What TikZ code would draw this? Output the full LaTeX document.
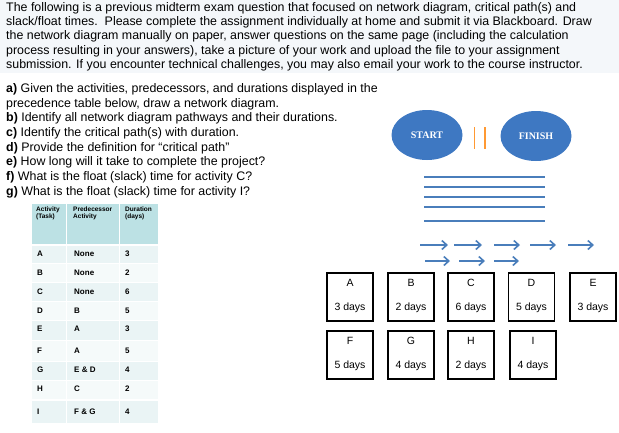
\documentclass[tikz,border=0pt]{standalone}
\usepackage{fontspec}
\setmainfont{Liberation Sans}
\newfontfamily\serifb{Liberation Serif}
\usetikzlibrary{arrows.meta,shapes.geometric}
\definecolor{bblue}{HTML}{3E78C2}
\definecolor{ablue}{HTML}{4A7EBB}
\definecolor{hdr}{HTML}{BCE1E4}
\definecolor{rowa}{HTML}{EAF4F5}
\definecolor{rowb}{HTML}{F5FAFA}
\definecolor{topbg}{HTML}{F4F7FA}
\begin{document}
\begin{tikzpicture}[x=1pt,y=-1pt,
  para/.style={anchor=west,inner sep=0pt,font=\fontsize{12.4}{13}\selectfont},
  qline/.style={anchor=west,inner sep=0pt,font=\fontsize{12.4}{13}\selectfont},
  cell/.style={anchor=west,inner sep=0pt,font=\fontsize{6.5}{7}\selectfont\bfseries},
  taskbox/.style={draw=black,line width=1.2pt,minimum width=46pt,minimum height=48pt,inner sep=0pt},
  tt/.style={font=\fontsize{10.5}{11}\selectfont,inner sep=0pt},
  oval/.style={ellipse,fill=bblue,minimum width=71pt,minimum height=50pt,text=white,font=\fontsize{10}{11}\selectfont\bfseries\serifb},
  blarrow/.style={draw=ablue,line width=1.6pt,-{Straight Barb[length=5pt,width=9pt]}},
  blline/.style={draw=ablue,line width=1.6pt}]
\useasboundingbox (0,0) rectangle (619,432);
\fill[topbg] (0,0) rectangle (619,73);
\node[para] (p1) at (6,8) {The following is a previous midterm exam question that focused on network diagram, critical path(s) and};
\node[para] (p2) at (6,22) {slack/float times.\ \ Please complete the assignment individually at home and submit it via Blackboard. Draw};
\node[para] (p3) at (6,36) {the network diagram manually on paper, answer questions on the same page (including the calculation};
\node[para] (p4) at (6,51) {process resulting in your answers), take a picture of your work and upload the file to your assignment};
\node[para] (p5) at (6,65) {submission. If you encounter technical challenges, you may also email your work to the course instructor.};
\node[qline] (q1) at (6,89) {\textbf{a)} Given the activities, predecessors, and durations displayed in the};
\node[qline] (q2) at (6,104) {precedence table below, draw a network diagram.};
\node[qline] (q3) at (6,118) {\textbf{b)} Identify all network diagram pathways and their durations.};
\node[qline] (q4) at (6,133) {\textbf{c)} Identify the critical path(s) with duration.};
\node[qline] (q5) at (6,148) {\textbf{d)} Provide the definition for “critical path”};
\node[qline] (q6) at (6,162) {\textbf{e)} How long will it take to complete the project?};
\node[qline] (q7) at (6,177) {\textbf{f)} What is the float (slack) time for activity C?};
\node[qline] (q8) at (6,192) {\textbf{g)} What is the float (slack) time for activity I?};
% table
\fill[hdr] (32,204) rectangle (66,244);
\fill[hdr] (67,204) rectangle (119,244);
\fill[hdr] (120,204) rectangle (158,244);
\foreach \t/\b [count=\i] in {246/263,264/282,283/301,302/320,321/340,341/361,362/380,381/399,401/423}{
  \pgfmathsetmacro\odd{mod(\i,2)}
  \ifdim\odd pt=1pt \def\rc{rowa}\else\def\rc{rowb}\fi
  \fill[\rc] (32,\t) rectangle (66,\b);
  \fill[\rc] (67,\t) rectangle (119,\b);
  \fill[\rc] (120,\t) rectangle (158,\b);
}
\node[cell,align=left,anchor=north west] (h1) at (36,207) {Activity\\(Task)};
\node[cell,align=left,anchor=north west] (h2) at (73,207) {Predecessor\\Activity};
\node[cell,align=left,anchor=north west] (h3) at (125,207) {Duration\\(days)};
\foreach \a/\p/\d/\y in {A/None/3/254,B/None/2/273,C/None/6/292,D/B/5/311,E/A/3/329,F/A/5/351,G/E \& D/4/370,H/C/2/389,I/F \& G/4/412}{
  \node[cell,font=\fontsize{8}{9}\selectfont\bfseries] at (37,\y) {\a};
  \node[cell,font=\fontsize{8}{9}\selectfont\bfseries] at (74,\y) {\p};
  \node[cell,font=\fontsize{8}{9}\selectfont\bfseries] at (125,\y) {\d};
}
% ovals
\node[oval] (start) at (427,135) {START};
\node[oval] (finish) at (536,136) {FINISH};
\draw[orange!80,line width=1.4pt] (474.5,127) -- (474.5,149);
\draw[orange!80,line width=1.4pt] (485,127) -- (485,149);
\foreach \y in {177,187,197,207,221} \draw[blline] (424,\y) -- (545,\y);
\foreach \a/\b in {420/448,454/482,494/520,530/556,568/594} \draw[blarrow] (\a,245) -- (\b,245);
\foreach \a/\b in {425/450,459/485,494/519} \draw[blarrow] (\a,261) -- (\b,261);
% boxes
\foreach \n/\d/\x/\y in {A/3/350/297,B/2/411/297,C/6/471/297,D/5/531.5/297,E/3/593/297,F/5/350/355,G/4/411/355,H/2/471/355,I/4/533/355}{
  \node[taskbox] (box\n) at (\x,\y) {};
  \node[tt] at (\x,\y-14) {\n};
  \node[tt] at (\x,\y+11) {\d\ days};
}
\end{tikzpicture}
\end{document}
